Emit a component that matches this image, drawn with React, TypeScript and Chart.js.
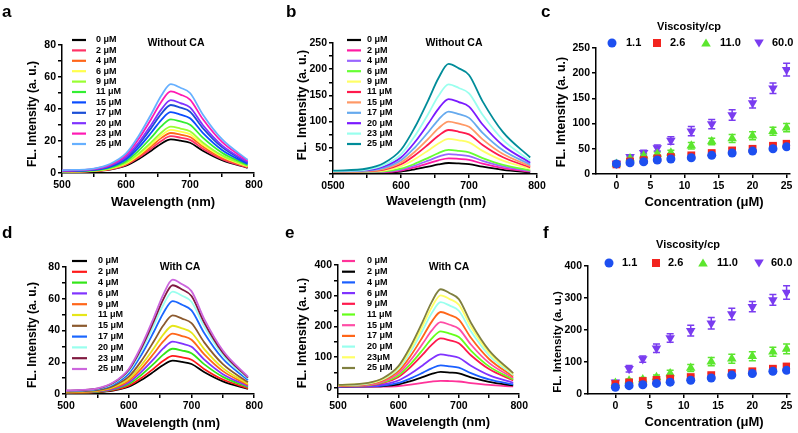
import React, { useEffect, useRef } from 'react';
import { Chart, registerables } from 'chart.js';

Chart.register(...registerables);

const FONT = '"Liberation Sans", Arial, Helvetica, sans-serif';

// ---------- shared axes data ----------
const wavelengths = [500, 550, 575, 600, 620, 640, 655, 670, 685, 700, 720, 750, 790];
const concentrations = [0, 2, 4, 6, 8, 11, 14, 17, 20, 23, 25];

const specXTicks = [500, 550, 600, 650, 700, 750, 800];
const specXLabels = ['500', '', '600', '', '700', '', '800'];
const specXLabelsB = ['0500', '', '600', '', '700', '', '800'];
const yTicks80 = [0, 10, 20, 30, 40, 50, 60, 70, 80];
const yLabels80 = ['0', '', '20', '', '40', '', '60', '', '80'];
const yTicks250 = [0, 25, 50, 75, 100, 125, 150, 175, 200, 225, 250];
const yLabels250 = ['', '', '50', '', '100', '', '150', '', '200', '', '250'];
const yTicks400 = [0, 50, 100, 150, 200, 250, 300, 350, 400];
const yLabels400 = ['0', '', '100', '', '200', '', '300', '', '400'];
const concTicks = [0, 5, 10, 15, 20, 25];
const concTickLabels = ['0', '5', '10', '15', '20', '25'];
const yTicksC = [0, 50, 100, 150, 200, 250];
const yLabelsC = ['0', '50', '100', '150', '200', '250'];
const yTicksF = [0, 100, 200, 300, 400];
const yLabelsF = ['0', '100', '200', '300', '400'];

const concLabels = ['0 μM', '2 μM', '4 μM', '6 μM', '9 μM', '11 μM', '15 μM', '17 μM', '20 μM', '23 μM', '25 μM'];
const concLabelsE = ['0 μM', '2 μM', '4 μM', '6 μM', '9 μM', '11 μM', '15 μM', '17 μM', '20 μM', '23μM', '25 μM'];
const viscosityLabels = ['1.1', '2.6', '11.0', '60.0'];

// ---------- panel a: without CA ----------
const a0 = [0.6, 1.1, 2.1, 4.6, 8.8, 14.1, 18.3, 21, 20.2, 18.9, 13.9, 8.0, 3.2];
const a2 = [0.7, 1.2, 2.3, 5.1, 9.7, 15.4, 20.0, 23, 22.1, 20.7, 15.2, 8.7, 3.5];
const a4 = [0.8, 1.3, 2.5, 5.5, 10.5, 16.8, 21.8, 25, 24.0, 22.5, 16.5, 9.5, 3.8];
const a6 = [0.8, 1.4, 2.7, 5.9, 11.3, 18.1, 23.5, 27, 25.9, 24.3, 17.8, 10.3, 4.1];
const a9 = [0.9, 1.5, 2.9, 6.4, 12.2, 19.4, 25.2, 29, 27.8, 26.1, 19.1, 11.0, 4.4];
const a11 = [1.0, 1.7, 3.4, 7.4, 14.1, 22.4, 29.1, 33.5, 32.2, 30.2, 22.1, 12.7, 5.0];
const a15 = [1.1, 1.9, 3.8, 8.4, 16.0, 25.5, 33.1, 38, 36.5, 34.2, 25.1, 14.4, 5.7];
const a17 = [1.3, 2.1, 4.3, 9.4, 17.9, 28.5, 37.0, 42.5, 40.8, 38.3, 28.1, 16.2, 6.4];
const a20 = [1.4, 2.3, 4.6, 10.0, 19.1, 30.5, 39.6, 45.5, 43.7, 41.0, 30.0, 17.3, 6.8];
const a23 = [1.5, 2.6, 5.1, 11.2, 21.4, 34.2, 44.4, 51, 49.0, 45.9, 33.7, 19.4, 7.7];
const a25 = [1.7, 2.8, 5.6, 12.2, 23.3, 37.2, 48.3, 55.5, 53.3, 50.0, 36.6, 21.1, 8.3];
const colorsA = ['#000000', '#ff3366', '#ff6619', '#ffff4d', '#99ff33', '#33ee33', '#0a4cff', '#1a4fd6', '#7f33ff', '#ff1ab3', '#66b0ff'];

// ---------- panel b: without CA ----------
const b0 = [3, 3, 3, 4.6, 8.8, 14.1, 18.3, 21, 20.2, 18.9, 13.9, 8.0, 3.2];
const b2 = [3.5, 3.5, 3.5, 6.6, 12.6, 20.1, 26.1, 30, 28.8, 27.0, 19.8, 11.4, 4.5];
const b4 = [4, 4, 4.5, 8.4, 16.0, 25.5, 33.1, 38, 36.5, 34.2, 25.1, 14.4, 5.7];
const b6 = [4, 4.5, 5, 10.1, 19.3, 30.8, 40.0, 46, 44.2, 41.4, 30.4, 17.5, 6.9];
const b9 = [4.5, 5, 6.7, 14.7, 28.1, 44.9, 58.3, 67, 64.3, 60.3, 44.2, 25.5, 10.1];
const b11 = [4.5, 5.5, 8.4, 18.5, 35.3, 56.3, 73.1, 84, 80.6, 75.6, 55.4, 31.9, 12.6];
const b15 = [5, 6, 10, 22, 42, 67, 87, 100, 96, 90, 66, 38, 15];
const b17 = [5, 6.5, 11.9, 26.2, 50.0, 79.7, 103.5, 119, 114.2, 107.1, 78.5, 45.2, 17.9];
const b20 = [5.5, 7.2, 14.3, 31.5, 60.1, 95.8, 124.4, 143, 137.3, 128.7, 94.4, 54.3, 21.5];
const b23 = [5.5, 8.6, 17.1, 37.6, 71.8, 114.6, 148.8, 171, 164.2, 153.9, 112.9, 65.0, 25.7];
const b25 = [6.3, 10.5, 21, 46.2, 88.2, 140.7, 182.7, 210, 201.6, 189, 138.6, 79.8, 31.5];
const colorsB = ['#000000', '#ff1aa3', '#9966ff', '#66ff33', '#ffff66', '#ff1a4d', '#ff9966', '#66aaee', '#7a1aff', '#99ffee', '#008c99'];

// ---------- panel d: with CA ----------
const d0 = [0.6, 1.1, 2.1, 4.6, 8.8, 14.1, 18.3, 21, 20.2, 18.9, 13.9, 8.0, 3.2];
const d2 = [0.7, 1.2, 2.4, 5.3, 10.1, 16.1, 20.9, 24, 23.0, 21.6, 15.8, 9.1, 3.6];
const d4 = [0.9, 1.4, 2.9, 6.3, 12.0, 19.1, 24.8, 28.5, 27.4, 25.7, 18.8, 10.8, 4.3];
const d6 = [1.0, 1.7, 3.3, 7.3, 13.9, 22.1, 28.7, 33, 31.7, 29.7, 21.8, 12.5, 5.0];
const d9 = [1.1, 1.9, 3.8, 8.4, 16.0, 25.5, 33.1, 38, 36.5, 34.2, 25.1, 14.4, 5.7];
const d11 = [1.3, 2.2, 4.3, 9.5, 18.1, 28.8, 37.4, 43, 41.3, 38.7, 28.4, 16.3, 6.5];
const d15 = [1.5, 2.5, 5.0, 10.9, 20.8, 33.2, 43.1, 49.5, 47.5, 44.6, 32.7, 18.8, 7.4];
const d17 = [1.8, 2.9, 5.9, 12.9, 24.6, 39.2, 50.9, 58.5, 56.2, 52.7, 38.6, 22.2, 8.8];
const d20 = [1.9, 3.2, 6.5, 14.2, 27.1, 43.2, 56.1, 64.5, 61.9, 58.1, 42.6, 24.5, 9.7];
const d23 = [2.1, 3.4, 6.9, 15.1, 28.8, 45.9, 59.6, 68.5, 65.8, 61.7, 45.2, 26.0, 10.3];
const d25 = [2.2, 3.6, 7.2, 15.8, 30.2, 48.2, 62.6, 72, 69.1, 64.8, 47.5, 27.4, 10.8];
const colorsD = ['#000000', '#ff1a1a', '#33e619', '#8033ff', '#ff661a', '#e6e619', '#8c5a2e', '#1a66ff', '#99ffee', '#801a40', '#cc66dd'];

// ---------- panel e: with CA ----------
const e0 = [3, 3.5, 4, 6, 10.5, 15.9, 20.4, 23, 22.1, 20.7, 15.6, 9.5, 4.5];
const e2 = [4, 4.5, 6, 11.4, 21.8, 34.8, 45.2, 52, 49.9, 46.8, 34.3, 19.8, 7.8];
const e4 = [4.5, 5, 7.3, 16.1, 30.7, 48.9, 63.5, 73, 70.1, 65.7, 48.2, 27.7, 11.0];
const e6 = [5, 6, 10.9, 24.0, 45.8, 73.0, 94.8, 109, 104.6, 98.1, 71.9, 41.4, 16.4];
const e9 = [5.5, 8.1, 16.1, 35.4, 67.6, 107.9, 140.1, 161, 154.6, 144.9, 106.3, 61.2, 24.2];
const e11 = [6, 9.2, 18.4, 40.5, 77.3, 123.3, 160.1, 184, 176.6, 165.6, 121.4, 69.9, 27.6];
const e15 = [6.4, 10.7, 21.4, 47.1, 89.9, 143.4, 186.2, 214, 205.4, 192.6, 141.2, 81.3, 32.1];
const e17 = [7.4, 12.4, 24.7, 54.3, 103.7, 165.5, 214.9, 247, 237.1, 222.3, 163.0, 93.9, 37.1];
const e20 = [8.4, 14.0, 27.9, 61.4, 117.2, 186.9, 242.7, 279, 267.8, 251.1, 184.1, 106.0, 41.9];
const e23 = [9.0, 15.1, 30.1, 66.2, 126.4, 201.7, 261.9, 301, 289.0, 270.9, 198.7, 114.4, 45.2];
const e25 = [9.6, 16.1, 32.1, 70.6, 134.8, 215.1, 279.3, 321, 308.2, 288.9, 211.9, 122.0, 48.2];
const colorsE = ['#ff3399', '#000000', '#1a5fff', '#8033ff', '#ff1a4d', '#66ff1a', '#ff4da6', '#ff6619', '#99ffee', '#ffff66', '#808040'];

// ---------- panel c: peak intensity vs concentration (without CA) ----------
const cVisc11 = [20, 22.4, 24.4, 27.7, 29.7, 32.3, 37, 41.6, 45.5, 50, 54];
const cVisc26 = [19, 25, 27.7, 31, 33.6, 37, 41.6, 46.8, 50, 56, 60];
const cVisc110 = [20, 31, 36, 39.6, 42, 56, 64.6, 70.6, 75.9, 85, 92];
const cVisc600 = [21, 34, 42, 51.5, 66.6, 85, 99, 117, 141, 170, 207];
const cErr11 = [2, 2, 2, 2, 2, 2, 2, 3, 3, 3, 3];
const cErr26 = [2, 3, 3, 3, 3, 3, 3, 4, 4, 4, 4];
const cErr110 = [2, 3, 4, 4, 5, 6.5, 6.5, 8, 8, 8, 8];
const cErr600 = [3, 4, 5, 6, 7.5, 9, 9, 10.5, 10, 10.5, 12.5];

// ---------- panel f: peak intensity vs concentration (with CA) ----------
const fVisc11 = [21, 26, 29, 33, 37, 43, 50, 59, 64, 71, 74];
const fVisc26 = [31, 36, 40.5, 44, 48, 53, 59, 65.5, 71, 79, 86];
const fVisc110 = [34, 41.5, 45.7, 52, 64, 81, 101, 110, 118, 132, 141];
const fVisc600 = [37, 79, 109, 143, 175, 198, 221, 250, 273, 294, 317];
const fErr11 = [3, 3, 3, 3, 4, 4, 4, 4, 4, 5, 5];
const fErr26 = [4, 4, 4, 5, 5, 5, 6, 6, 6, 7, 8];
const fErr110 = [4, 5, 6, 7, 10, 11, 13, 14, 14, 14, 15];
const fErr600 = [5, 10, 10, 13, 13, 17, 18, 18, 16, 17, 21];

const scatterColors = ['#1d4ff0', '#f2241f', '#5ce62e', '#7a3cf0'];
const scatterStyles = ['circle', 'rect', 'triangle', 'triangleDown'];

// ---------- panel layout ----------
type Panel = any;

const PANELS: Panel[] = [
  {
    id: 'a', kind: 'spectrum', box: [0, 0, 265, 215], area: [62, 45, 254, 173],
    x: [500, 800, specXTicks, specXLabels], y: [0, 80, yTicks80, yLabels80],
    series: [a0, a2, a4, a6, a9, a11, a15, a17, a20, a23, a25], labels: concLabels, colors: colorsA,
    letter: [2, 12], xTitle: ['Wavelength (nm)', 163, 202, 13], yTitle: ['FL. Intensity (a. u.)', 33, 114, 12],
    inset: ['Without CA', 176, 43, 10.5], legend: { x1: 72, x2: 86, tx: 96, y0: 40, dy: 10.4, size: 9 },
  },
  {
    id: 'b', kind: 'spectrum', box: [265, 0, 285, 215], area: [68, 43, 272, 174],
    x: [500, 800, specXTicks, specXLabelsB], y: [0, 250, yTicks250, yLabels250],
    series: [b0, b2, b4, b6, b9, b11, b15, b17, b20, b23, b25], labels: concLabels, colors: colorsB,
    letter: [21, 12], xTitle: ['Wavelength (nm)', 171, 202, 12.5], yTitle: ['FL. Intensity (a. u.)', 38, 105, 12.5],
    inset: ['Without CA', 189, 43, 10.5], legend: { x1: 82, x2: 96, tx: 102, y0: 40, dy: 10.4, size: 9 },
  },
  {
    id: 'c', kind: 'scatter', box: [530, 0, 268, 215], area: [66, 48, 260, 174],
    x: [-3, 25.5, concTicks, concTickLabels], y: [0, 250, yTicksC, yLabelsC],
    series: [cVisc11, cVisc26, cVisc110, cVisc600], errors: [cErr11, cErr26, cErr110, cErr600],
    letter: [11, 12], xTitle: ['Concentration (μM)', 174, 202, 13], yTitle: ['FL. Intensity (a. u.)', 32, 112, 12.5],
    legendTitle: ['Viscosity/cp', 159, 27, 11], legendMarks: [82, 127, 176, 229], legendTexts: [96, 140, 190, 242], legendY: 43,
  },
  {
    id: 'd', kind: 'spectrum', box: [0, 215, 265, 218], area: [66, 52, 255, 179],
    x: [500, 800, specXTicks, specXLabels], y: [0, 80, yTicks80, yLabels80],
    series: [d0, d2, d4, d6, d9, d11, d15, d17, d20, d23, d25], labels: concLabels, colors: colorsD,
    letter: [2, 18], xTitle: ['Wavelength (nm)', 168, 208, 13], yTitle: ['FL. Intensity (a. u.)', 33, 120, 12],
    inset: ['With CA', 180, 52, 10.5], legend: { x1: 72, x2: 87, tx: 98, y0: 46, dy: 10.8, size: 9 },
  },
  {
    id: 'e', kind: 'spectrum', box: [265, 215, 265, 218], area: [73, 50, 255, 179],
    x: [500, 800, specXTicks, specXLabels], y: [-20, 400, yTicks400, yLabels400],
    series: [e0, e2, e4, e6, e9, e11, e15, e17, e20, e23, e25], labels: concLabelsE, colors: colorsE,
    letter: [20, 18], xTitle: ['Wavelength (nm)', 173, 207, 13], yTitle: ['FL. Intensity (a. u.)', 38, 118, 12.5],
    inset: ['With CA', 184, 52, 10.5], legend: { x1: 77, x2: 90, tx: 102, y0: 46, dy: 10.7, size: 9 },
  },
  {
    id: 'f', kind: 'scatter', box: [530, 215, 268, 218], area: [58, 51, 260, 179],
    x: [-4, 25.5, concTicks, concTickLabels], y: [0, 400, yTicksF, yLabelsF],
    series: [fVisc11, fVisc26, fVisc110, fVisc600], errors: [fErr11, fErr26, fErr110, fErr600],
    letter: [13, 18], xTitle: ['Concentration (μM)', 174, 207, 13], yTitle: ['FL. Intensity (a. u.)', 28, 127, 11.5],
    legendTitle: ['Viscosity/cp', 158, 30, 11], legendMarks: [79, 126, 173, 229], legendTexts: [92, 138, 187, 241], legendY: 48,
  },
];

function drawText(ctx: CanvasRenderingContext2D, s: string, x: number, y: number, size: number, align: CanvasTextAlign = 'center', rot = 0) {
  ctx.save();
  ctx.translate(x, y);
  ctx.rotate(rot);
  ctx.font = `bold ${size}px ${FONT}`;
  ctx.textAlign = align;
  ctx.textBaseline = 'middle';
  ctx.fillStyle = '#000';
  ctx.fillText(s, 0, 0);
  ctx.restore();
}

function drawMarker(ctx: CanvasRenderingContext2D, style: string, x: number, y: number, color: string) {
  ctx.save();
  ctx.fillStyle = color;
  ctx.beginPath();
  if (style === 'circle') ctx.arc(x, y, 4.5, 0, Math.PI * 2);
  else if (style === 'rect') ctx.rect(x - 4, y - 4, 8, 8);
  else if (style === 'triangle') {
    ctx.moveTo(x, y - 4.5); ctx.lineTo(x + 4.8, y + 3.5); ctx.lineTo(x - 4.8, y + 3.5); ctx.closePath();
  } else {
    ctx.moveTo(x, y + 4.5); ctx.lineTo(x + 4.8, y - 3.5); ctx.lineTo(x - 4.8, y - 3.5); ctx.closePath();
  }
  ctx.fill();
  ctx.restore();
}

function makeDecor(p: Panel) {
  return {
    id: 'decor_' + p.id,
    beforeDatasetsDraw(chart: any) {
      if (p.kind !== 'scatter') return;
      const ctx = chart.ctx as CanvasRenderingContext2D;
      const xs = chart.scales.x;
      const ys = chart.scales.y;
      ctx.save();
      ctx.lineWidth = 1.5;
      p.series.forEach((vals: number[], i: number) => {
        ctx.strokeStyle = scatterColors[i];
        vals.forEach((v, j) => {
          const e = p.errors[i][j];
          const px = xs.getPixelForValue(concentrations[j]);
          const top = ys.getPixelForValue(v + e);
          const bot = ys.getPixelForValue(v - e);
          ctx.beginPath();
          ctx.moveTo(px, top); ctx.lineTo(px, bot);
          ctx.moveTo(px - 3.5, top); ctx.lineTo(px + 3.5, top);
          ctx.moveTo(px - 3.5, bot); ctx.lineTo(px + 3.5, bot);
          ctx.stroke();
        });
      });
      ctx.restore();
    },
    afterDraw(chart: any) {
      const ctx = chart.ctx as CanvasRenderingContext2D;
      drawText(ctx, p.id, p.letter[0], p.letter[1], 17, 'left');
      drawText(ctx, p.xTitle[0], p.xTitle[1], p.xTitle[2], p.xTitle[3]);
      drawText(ctx, p.yTitle[0], p.yTitle[1], p.yTitle[2], p.yTitle[3], 'center', -Math.PI / 2);
      if (p.kind === 'spectrum') {
        drawText(ctx, p.inset[0], p.inset[1], p.inset[2], p.inset[3]);
        const L = p.legend;
        chart.data.datasets.forEach((ds: any, i: number) => {
          const y = L.y0 + i * L.dy;
          ctx.save();
          ctx.strokeStyle = ds.borderColor;
          ctx.lineWidth = 2.2;
          ctx.beginPath();
          ctx.moveTo(L.x1, y); ctx.lineTo(L.x2, y);
          ctx.stroke();
          ctx.restore();
          drawText(ctx, ds.label, L.tx, y, L.size, 'left');
        });
      } else {
        drawText(ctx, p.legendTitle[0], p.legendTitle[1], p.legendTitle[2], p.legendTitle[3]);
        viscosityLabels.forEach((lab, i) => {
          drawMarker(ctx, scatterStyles[i], p.legendMarks[i], p.legendY, scatterColors[i]);
          drawText(ctx, lab, p.legendTexts[i], p.legendY, 11, 'left');
        });
      }
    },
  };
}

function axis(min: number, max: number, ticks: number[], labels: string[], fit: (s: any) => void) {
  return {
    type: 'linear',
    min,
    max,
    afterBuildTicks: (s: any) => { s.ticks = ticks.map((v) => ({ value: v })); },
    afterFit: fit,
    ticks: {
      callback: (_v: any, i: number) => labels[i],
      autoSkip: false,
      maxRotation: 0,
      minRotation: 0,
      color: '#000',
      padding: 2,
      font: { family: FONT, size: 10.5, weight: 'bold' },
    },
    grid: { drawOnChartArea: false, drawTicks: true, tickLength: 4, color: '#000', lineWidth: 1.5 },
    border: { display: true, color: '#000', width: 1.5 },
  };
}

function buildConfig(p: Panel): any {
  const [, , w, h] = p.box;
  const [al, at, ar, ab] = p.area;
  let datasets: any[];
  if (p.kind === 'spectrum') {
    datasets = p.series.map((arr: number[], i: number) => ({
      label: p.labels[i],
      data: wavelengths.map((wl, j) => ({ x: wl, y: arr[j] })),
      borderColor: p.colors[i],
      backgroundColor: p.colors[i],
      borderWidth: 1.8,
      pointRadius: 0,
      fill: false,
      cubicInterpolationMode: 'monotone',
      order: p.series.length - i,
    }));
  } else {
    const radii = [4.5, 5.5, 5.5, 5.5];
    datasets = p.series.map((arr: number[], i: number) => ({
      label: viscosityLabels[i],
      data: concentrations.map((c, j) => ({ x: c, y: arr[j] })),
      backgroundColor: scatterColors[i],
      borderColor: scatterColors[i],
      pointStyle: scatterStyles[i] === 'triangleDown' ? 'triangle' : scatterStyles[i],
      pointRotation: scatterStyles[i] === 'triangleDown' ? 180 : 0,
      pointRadius: radii[i],
      pointBorderWidth: 0,
      showLine: false,
    }));
  }
  return {
    type: p.kind === 'spectrum' ? 'line' : 'scatter',
    data: { datasets },
    options: {
      responsive: false,
      animation: false,
      events: [],
      layout: { padding: { left: 0, top: at, right: w - ar, bottom: 0 } },
      plugins: { legend: { display: false }, tooltip: { enabled: false }, title: { display: false } },
      scales: {
        x: axis(p.x[0], p.x[1], p.x[2], p.x[3], (s: any) => { s.height = h - ab; }),
        y: axis(p.y[0], p.y[1], p.y[2], p.y[3], (s: any) => { s.width = al; }),
      },
    },
    plugins: [makeDecor(p)],
  };
}

function PanelChart({ p }: { p: Panel }) {
  const ref = useRef<HTMLCanvasElement>(null);
  useEffect(() => {
    const chart = new Chart(ref.current as HTMLCanvasElement, buildConfig(p));
    return () => chart.destroy();
  }, [p]);
  const [l, t, w, h] = p.box;
  return (
    <canvas
      ref={ref}
      width={w}
      height={h}
      style={{ position: 'absolute', left: l, top: t, width: w, height: h }}
    />
  );
}

export default function App() {
  return (
    <div style={{ position: 'fixed', left: 0, top: 0, width: 798, height: 433, background: '#fff', overflow: 'hidden' }}>
      {PANELS.map((p) => (
        <PanelChart key={p.id} p={p} />
      ))}
    </div>
  );
}
